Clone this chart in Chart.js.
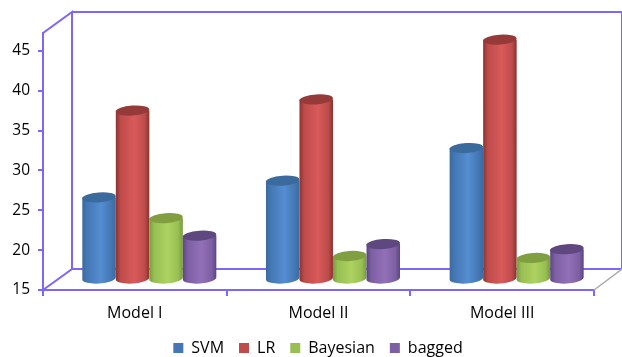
<!DOCTYPE html>
<html>
<head>
<meta charset="utf-8">
<style>
  html, body { margin: 0; padding: 0; background: #fff; }
  canvas { display: block; }
</style>
<script src="https://cdn.jsdelivr.net/npm/chart.js@4"></script>
</head>
<body>
<canvas id="modelChart" width="622" height="357"></canvas>
<script>
// Chart data
const MODELS = ['Model I', 'Model II', 'Model III'];
const SVM_VALUES = [25.3, 27.4, 31.5];
const LR_VALUES = [36.2, 37.6, 45.1];
const BAYESIAN_VALUES = [22.7, 17.95, 17.7];
const BAGGED_VALUES = [20.5, 19.45, 18.8];
const Y_TICKS = [15, 20, 25, 30, 35, 40, 45];

// Cylinder shading per series: edge, body, highlight, lid
const SHADES = {
  SVM: ['#3a6a9e', '#4477b4', '#558ed2', '#3b6a9c'],
  LR: ['#8a3230', '#bd4c4a', '#d95a5a', '#953a38'],
  Bayesian: ['#7a9a40', '#97bf52', '#aed261', '#7f9f40'],
  bagged: ['#5c4580', '#7d5fa3', '#9270b8', '#5f4780']
};

const AXIS_COLOR = '#7b68fb';
const FONT = '"Open Sans", "Noto Sans", sans-serif';
const DEPTH_X = 29;
const DEPTH_Y = 21;
const LEGEND_SHIFT = 21;

// Back wall, floor edges and side wall of the 3D box
const boxPlugin = {
  id: 'box',
  afterLayout(chart) {
    chart.legend.left += LEGEND_SHIFT;
    chart.legend.right += LEGEND_SHIFT;
  },
  beforeDatasetsDraw(chart) {
    const { left, right, top, bottom } = chart.chartArea;
    const c = chart.ctx;
    c.save();
    c.lineWidth = 2;
    c.strokeStyle = AXIS_COLOR;
    c.beginPath();
    c.moveTo(left, bottom);
    c.lineTo(left + DEPTH_X, bottom - DEPTH_Y);
    c.lineTo(left + DEPTH_X, top - DEPTH_Y);
    c.lineTo(left, top);
    c.moveTo(left + DEPTH_X, top - DEPTH_Y);
    c.lineTo(right + DEPTH_X - 1, top - DEPTH_Y);
    c.lineTo(right + DEPTH_X - 1, bottom - DEPTH_Y);
    c.lineTo(left + DEPTH_X, bottom - DEPTH_Y);
    c.stroke();
    c.strokeStyle = '#aaaaaa';
    c.lineWidth = 1.5;
    c.beginPath();
    c.moveTo(right, bottom);
    c.lineTo(right + DEPTH_X - 1, bottom - DEPTH_Y);
    c.stroke();
    c.restore();
  }
};

// Draws each bar element as a cylinder standing in the middle of the box depth
const cylinderPlugin = {
  id: 'cylinders',
  afterDatasetsDraw(chart) {
    const c = chart.ctx;
    chart.data.datasets.forEach((ds, i) => {
      const [edge, body, light, lid] = SHADES[ds.label];
      chart.getDatasetMeta(i).data.forEach(bar => {
        const x = bar.x + DEPTH_X / 2;
        const rx = bar.width / 2;
        const ry = 5;
        const tilt = -0.07;
        const topY = bar.y - DEPTH_Y / 2;
        const baseY = bar.base - DEPTH_Y / 2;
        const g = c.createLinearGradient(x - rx, 0, x + rx, 0);
        g.addColorStop(0, edge);
        g.addColorStop(0.14, body);
        g.addColorStop(0.55, light);
        g.addColorStop(0.86, body);
        g.addColorStop(1, edge);
        c.save();
        c.fillStyle = g;
        c.beginPath();
        c.ellipse(x, baseY, rx, ry, tilt, 0, Math.PI);
        c.lineTo(x - rx, topY);
        c.lineTo(x + rx, topY);
        c.closePath();
        c.fill();
        c.fillStyle = lid;
        c.beginPath();
        c.ellipse(x, topY, rx, ry, tilt, 0, Math.PI * 2);
        c.fill();
        c.restore();
      });
    });
  }
};

// The flat bars stay invisible, the cylinder plugin paints them
function series(label, data) {
  return {
    label,
    data,
    base: Y_TICKS[0],
    backgroundColor: 'transparent',
    borderWidth: 0,
    categoryPercentage: 0.73,
    barPercentage: 1
  };
}

new Chart(document.getElementById('modelChart'), {
  type: 'bar',
  data: {
    labels: MODELS,
    datasets: [
      series('SVM', SVM_VALUES),
      series('LR', LR_VALUES),
      series('Bayesian', BAYESIAN_VALUES),
      series('bagged', BAGGED_VALUES)
    ]
  },
  options: {
    responsive: false,
    animation: false,
    layout: { padding: { top: 33, right: 28, left: 0, bottom: -9 } },
    scales: {
      x: {
        grid: { drawOnChartArea: false, tickLength: 6, tickColor: AXIS_COLOR, lineWidth: 2, offset: true },
        border: { color: AXIS_COLOR, width: 2 },
        ticks: { color: '#000', padding: 8, font: { family: FONT, size: 16 }, maxRotation: 0 },
        afterFit(scale) { scale.height = 35; }
      },
      y: {
        min: Y_TICKS[0],
        max: 47.25,
        afterBuildTicks(scale) { scale.ticks = Y_TICKS.map(value => ({ value })); },
        afterFit(scale) { scale.width = 43; },
        grid: { drawOnChartArea: false, tickLength: 5, tickColor: AXIS_COLOR, lineWidth: 2 },
        border: { color: AXIS_COLOR, width: 2 },
        ticks: { color: '#000', padding: 8, font: { family: FONT, size: 15.5, weight: '500' } }
      }
    },
    plugins: {
      tooltip: { enabled: false },
      legend: {
        position: 'bottom',
        labels: {
          boxWidth: 10,
          boxHeight: 10,
          padding: 15,
          color: '#000',
          font: { family: FONT, size: 16 },
          generateLabels(chart) {
            return chart.data.datasets.map((ds, i) => ({
              text: ds.label,
              fillStyle: SHADES[ds.label][1],
              lineWidth: 0,
              strokeStyle: 'transparent',
              datasetIndex: i
            }));
          }
        }
      }
    }
  },
  plugins: [boxPlugin, cylinderPlugin]
});
</script>
</body>
</html>
